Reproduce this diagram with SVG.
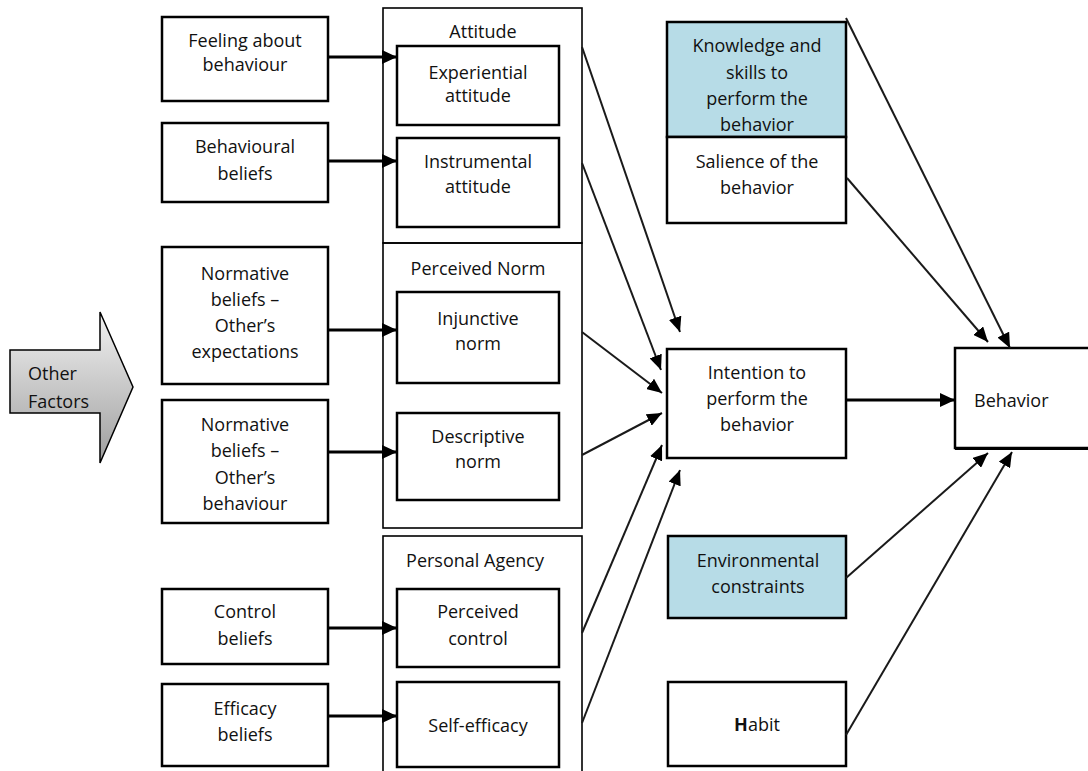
<svg xmlns="http://www.w3.org/2000/svg" width="1088" height="771" viewBox="0 0 1088 771">
<defs>
<style>
.box{fill:#fff;stroke:#000;stroke-width:2.5}
.grp{fill:none;stroke:#000;stroke-width:1.6}
.blue{fill:#b7dce7;stroke:#000;stroke-width:2.5}
text{font-family:"Open Sans","Liberation Sans",sans-serif;font-size:18px;fill:#111;text-anchor:middle}
.h{stroke:#000;stroke-width:3.2;fill:none;marker-end:url(#ah)}
.d{stroke:#1a1a1a;stroke-width:2;fill:none;marker-end:url(#ad)}
</style>
<marker id="ah" markerUnits="userSpaceOnUse" markerWidth="16" markerHeight="14" refX="15" refY="7" orient="auto">
<path d="M0,0 L15,7 L0,14 z" fill="#000"/>
</marker>
<marker id="ad" markerUnits="userSpaceOnUse" markerWidth="16" markerHeight="13" refX="15" refY="6.5" orient="auto">
<path d="M0,0 L15,6.5 L0,13 z" fill="#000"/>
</marker>
<linearGradient id="gg" x1="0" y1="0" x2="0" y2="1">
<stop offset="0" stop-color="#f2f2f2"/>
<stop offset="1" stop-color="#9e9e9e"/>
</linearGradient>
</defs>
<rect width="1088" height="771" fill="#fff"/>

<g id="other-factors">
<polygon points="10,350 100,350 100,312 133,387 100,463 100,413 10,413" fill="url(#gg)" stroke="#000" stroke-width="1.5"/>
<text x="28" y="380" style="text-anchor:start">Other</text>
<text x="28" y="408" style="text-anchor:start">Factors</text>
</g>

<g id="feeling">
<rect class="box" x="162" y="17" width="166" height="84"/>
<text x="245" y="47">Feeling about</text>
<text x="245" y="71">behaviour</text>
</g>
<g id="behavioural-beliefs">
<rect class="box" x="162" y="123" width="166" height="79"/>
<text x="245" y="153">Behavioural</text>
<text x="245" y="180">beliefs</text>
</g>
<g id="normative-expectations">
<rect class="box" x="162" y="247" width="166" height="137"/>
<text x="245" y="280">Normative</text>
<text x="245" y="306">beliefs –</text>
<text x="245" y="332">Other’s</text>
<text x="245" y="358">expectations</text>
</g>
<g id="normative-behaviour">
<rect class="box" x="162" y="400" width="166" height="123"/>
<text x="245" y="431">Normative</text>
<text x="245" y="457">beliefs –</text>
<text x="245" y="484">Other’s</text>
<text x="245" y="510">behaviour</text>
</g>
<g id="control-beliefs">
<rect class="box" x="162" y="589" width="166" height="75"/>
<text x="245" y="618">Control</text>
<text x="245" y="645">beliefs</text>
</g>
<g id="efficacy-beliefs">
<rect class="box" x="162" y="684" width="166" height="82"/>
<text x="245" y="715">Efficacy</text>
<text x="245" y="741">beliefs</text>
</g>

<g id="attitude">
<rect class="grp" x="383" y="8" width="199" height="235"/>
<text x="483" y="38">Attitude</text>
</g>
<g id="experiential-attitude">
<rect class="box" x="397" y="46" width="162" height="79"/>
<text x="478" y="79">Experiential</text>
<text x="478" y="102">attitude</text>
</g>
<g id="instrumental-attitude">
<rect class="box" x="397" y="138" width="162" height="89"/>
<text x="478" y="168">Instrumental</text>
<text x="478" y="193">attitude</text>
</g>

<g id="perceived-norm">
<rect class="grp" x="383" y="243" width="199" height="285"/>
<text x="478" y="275">Perceived Norm</text>
</g>
<g id="injunctive-norm">
<rect class="box" x="397" y="292" width="162" height="91"/>
<text x="478" y="325">Injunctive</text>
<text x="478" y="350">norm</text>
</g>
<g id="descriptive-norm">
<rect class="box" x="397" y="413" width="162" height="87"/>
<text x="478" y="443">Descriptive</text>
<text x="478" y="468">norm</text>
</g>

<g id="personal-agency">
<rect class="grp" x="383" y="536" width="199" height="240"/>
<text x="475" y="567">Personal Agency</text>
</g>
<g id="perceived-control">
<rect class="box" x="397" y="589" width="162" height="78"/>
<text x="478" y="618">Perceived</text>
<text x="478" y="645">control</text>
</g>
<g id="self-efficacy">
<rect class="box" x="397" y="682" width="162" height="85"/>
<text x="478" y="732">Self-efficacy</text>
</g>

<g id="knowledge">
<rect class="blue" x="667" y="22" width="179" height="115"/>
<text x="757" y="52">Knowledge and</text>
<text x="757" y="79">skills to</text>
<text x="757" y="105">perform the</text>
<text x="757" y="131">behavior</text>
</g>
<g id="salience">
<rect class="box" x="667" y="137" width="179" height="86"/>
<text x="757" y="168">Salience of the</text>
<text x="757" y="194">behavior</text>
</g>
<g id="intention">
<rect class="box" x="667" y="349" width="179" height="109"/>
<text x="757" y="379">Intention to</text>
<text x="757" y="405">perform the</text>
<text x="757" y="431">behavior</text>
</g>
<g id="environmental">
<rect class="blue" x="668" y="536" width="178" height="82"/>
<text x="758" y="567">Environmental</text>
<text x="758" y="593">constraints</text>
</g>
<g id="habit">
<rect class="box" x="668" y="682" width="178" height="84"/>
<text x="757" y="731"><tspan font-weight="bold">H</tspan>abit</text>
</g>
<g id="behavior">
<rect class="box" x="955" y="348" width="140" height="100"/>
<line x1="955" y1="449" x2="1088" y2="449" stroke="#000" stroke-width="2"/>
<text x="974" y="407" style="text-anchor:start">Behavior</text>
</g>

<g id="connectors">
<line class="h" x1="328" y1="57" x2="397" y2="57"/>
<line class="h" x1="328" y1="161" x2="397" y2="161"/>
<line class="h" x1="328" y1="330" x2="397" y2="330"/>
<line class="h" x1="328" y1="452" x2="397" y2="452"/>
<line class="h" x1="328" y1="628" x2="397" y2="628"/>
<line class="h" x1="328" y1="716" x2="397" y2="716"/>
<line class="h" x1="846" y1="400" x2="955" y2="400"/>
<line class="d" x1="582" y1="47" x2="680" y2="332"/>
<line class="d" x1="582" y1="163" x2="661" y2="370"/>
<line class="d" x1="582" y1="332" x2="662" y2="393"/>
<line class="d" x1="582" y1="455" x2="662" y2="413"/>
<line class="d" x1="582" y1="633" x2="662" y2="445"/>
<line class="d" x1="582" y1="723" x2="680" y2="470"/>
<line class="d" x1="846" y1="18" x2="1010" y2="348"/>
<line class="d" x1="847" y1="178" x2="988" y2="342"/>
<line class="d" x1="846" y1="578" x2="988" y2="453"/>
<line class="d" x1="846" y1="735" x2="1012" y2="452"/>
</g>
</svg>
